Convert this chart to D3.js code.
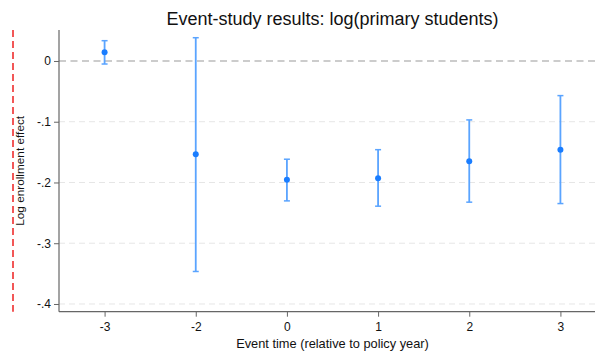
<!DOCTYPE html>
<html>
<head>
<meta charset="utf-8">
<script src="https://cdn.jsdelivr.net/npm/d3@7"></script>
<style>
  body { margin: 0; background: #fff; }
  text { font-family: "Liberation Sans", Arial, sans-serif; fill: #111; }
</style>
</head>
<body>
<div class="chart"></div>
<script>
// Event-study chart

var svgWidth = 595;
var svgHeight = 354;

// data
var eventTimes = ["-3", "-2", "0", "1", "2", "3"];
var estimates = [0.0143, -0.1535, -0.1957, -0.1930, -0.1650, -0.1460];
var ciLower = [-0.0050, -0.3465, -0.2303, -0.2390, -0.2324, -0.2347];
var ciUpper = [0.0334, 0.0383, -0.1617, -0.1460, -0.0970, -0.0570];
var yTicks = [0, -0.1, -0.2, -0.3, -0.4];

var plot = { left: 59, right: 606, top: 30, bottom: 311.7 };

var svg = d3.select(".chart")
  .append("svg")
  .attr("width", svgWidth)
  .attr("height", svgHeight);

var xScale = d3.scalePoint()
  .domain(eventTimes)
  .range([plot.left, plot.right])
  .padding(0.5);

var yScale = d3.scaleLinear()
  .domain([-0.4127, 0.051])
  .range([plot.bottom, plot.top]);

// stata style labels: 0, -.1, -.2 ...
var fmt = function(v) {
  if (v === 0) return "0";
  var s = Math.abs(v).toFixed(1).replace("0.", ".");
  return (v < 0 ? "-" : "") + s;
};

// grid lines
svg.append("g")
  .selectAll("line")
  .data(yTicks.filter(d => d !== 0))
  .enter()
  .append("line")
  .attr("x1", plot.left)
  .attr("x2", plot.right)
  .attr("y1", d => yScale(d))
  .attr("y2", d => yScale(d))
  .attr("stroke", "#e6e6e6")
  .attr("stroke-width", 1)
  .attr("stroke-dasharray", "6,4");

// zero reference line
svg.append("line")
  .attr("x1", plot.left)
  .attr("x2", plot.right)
  .attr("y1", yScale(0))
  .attr("y2", yScale(0))
  .attr("stroke", "#999")
  .attr("stroke-width", 1.2)
  .attr("stroke-dasharray", "7,4.5");

// axes
var leftAxis = d3.axisLeft(yScale)
  .tickValues(yTicks)
  .tickFormat(fmt)
  .tickSize(5)
  .tickPadding(3);

var bottomAxis = d3.axisBottom(xScale)
  .tickSize(5)
  .tickPadding(6);

var yAxis = svg.append("g")
  .attr("transform", `translate(${plot.left}, 0)`)
  .call(leftAxis);

var xAxis = svg.append("g")
  .attr("transform", `translate(0, ${plot.bottom})`)
  .call(bottomAxis);

[yAxis, xAxis].forEach(function(ax) {
  ax.select(".domain").attr("stroke", "#666").attr("stroke-width", 1.2);
  ax.selectAll(".tick line").attr("stroke", "#666");
  ax.selectAll(".tick text")
    .attr("fill", "#111")
    .style("font-size", "12px")
    .style("font-family", "Liberation Sans, Arial, sans-serif");
});
yAxis.select(".domain").attr("d", `M0,${plot.top}V${plot.bottom}`);
xAxis.select(".domain").attr("d", `M${plot.left},0H${plot.right}`);

// confidence intervals
var idx = d3.range(eventTimes.length);
var ciGroup = svg.append("g");

ciGroup.selectAll("line.ci")
  .data(idx)
  .enter()
  .append("line")
  .attr("class", "ci")
  .attr("x1", i => xScale(eventTimes[i]))
  .attr("x2", i => xScale(eventTimes[i]))
  .attr("y1", i => yScale(ciLower[i]))
  .attr("y2", i => yScale(ciUpper[i]))
  .attr("stroke", "#5aa4ff")
  .attr("stroke-width", 1.8);

["lo", "hi"].forEach(function(k) {
  ciGroup.selectAll("line.cap-" + k)
    .data(idx)
    .enter()
    .append("line")
    .attr("class", "cap-" + k)
    .attr("x1", i => xScale(eventTimes[i]) - 3)
    .attr("x2", i => xScale(eventTimes[i]) + 3)
    .attr("y1", i => yScale(k === "lo" ? ciLower[i] : ciUpper[i]))
    .attr("y2", i => yScale(k === "lo" ? ciLower[i] : ciUpper[i]))
    .attr("stroke", "#5aa4ff")
    .attr("stroke-width", 1.5);
});

// point estimates
svg.append("g")
  .selectAll("circle")
  .data(idx)
  .enter()
  .append("circle")
  .attr("cx", i => xScale(eventTimes[i]))
  .attr("cy", i => yScale(estimates[i]))
  .attr("r", 3)
  .attr("fill", "#1a7dff");

// red dashed line on the left
svg.append("line")
  .attr("x1", 13)
  .attr("x2", 13)
  .attr("y1", plot.top)
  .attr("y2", plot.bottom)
  .attr("stroke", "#ee2020")
  .attr("stroke-width", 1.5)
  .attr("stroke-dasharray", "7,4");

// title
svg.append("text")
  .attr("x", (plot.left + plot.right) / 2)
  .attr("y", 25)
  .attr("text-anchor", "middle")
  .style("font-size", "18px")
  .text("Event-study results: log(primary students)");

// axis titles
svg.append("text")
  .attr("transform", `translate(23.5, ${(plot.top + plot.bottom) / 2}) rotate(-90)`)
  .attr("text-anchor", "middle")
  .style("font-size", "11.8px")
  .text("Log enrollment effect");

svg.append("text")
  .attr("x", (plot.left + plot.right) / 2)
  .attr("y", 348)
  .attr("text-anchor", "middle")
  .style("font-size", "12.8px")
  .text("Event time (relative to policy year)");
</script>
</body>
</html>
